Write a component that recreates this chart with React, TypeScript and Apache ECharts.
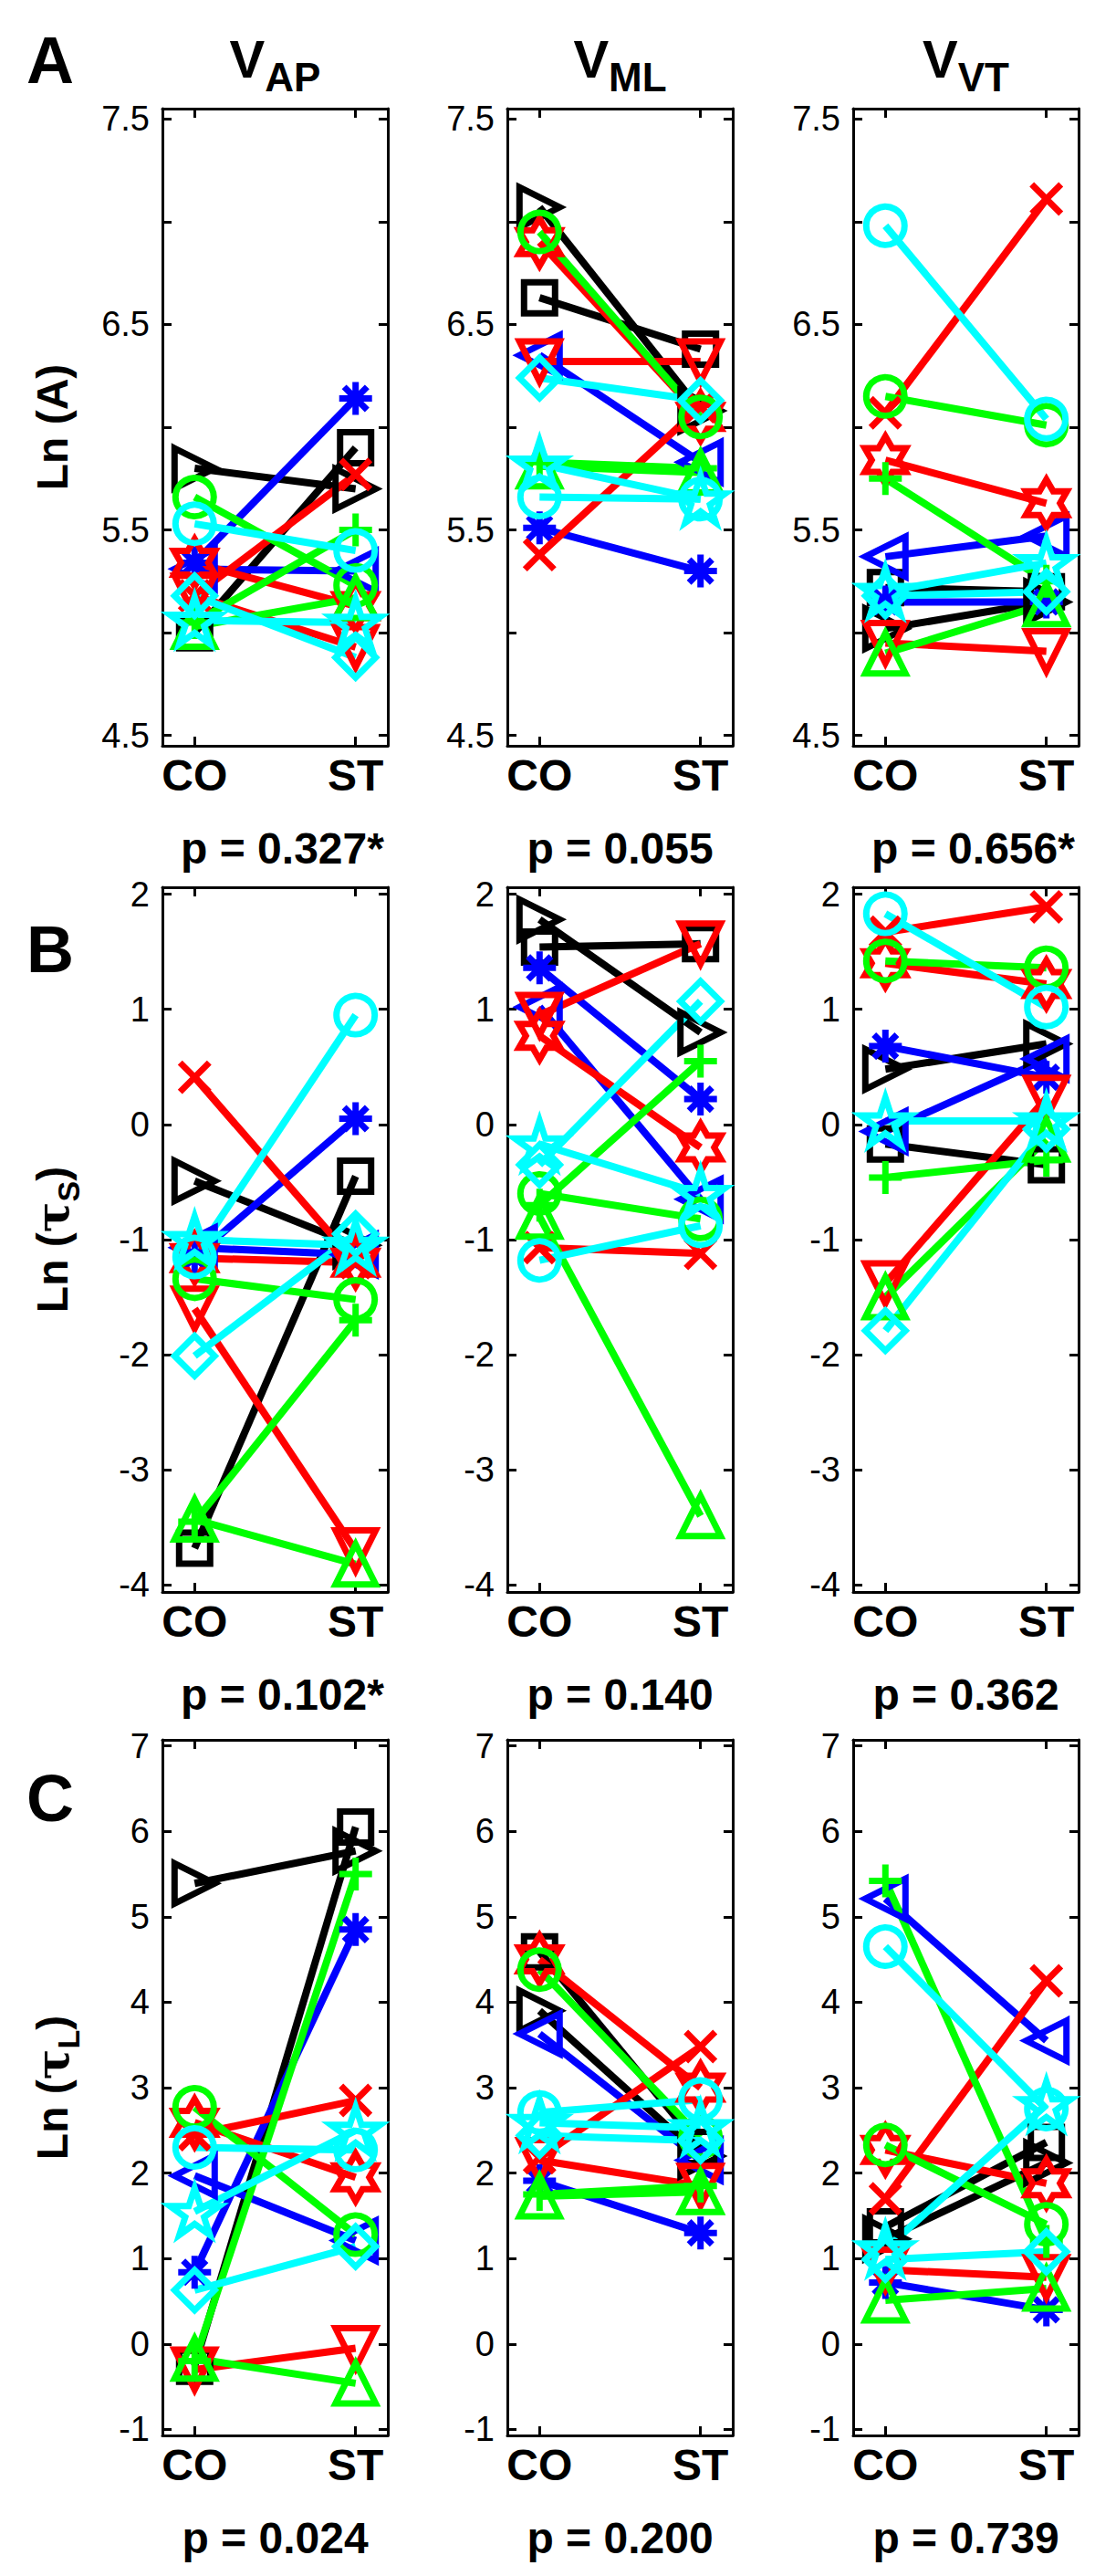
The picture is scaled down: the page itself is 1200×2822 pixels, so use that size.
import React, { useEffect, useRef } from 'react';
import * as echarts from 'echarts';

// ---------- DATA ----------
const categories = ['CO', 'ST'];
// 13 subjects: colour + MATLAB-like marker
const subjectColors = ['#000000', '#000000', '#0000FF', '#0000FF', '#FF0000', '#FF0000', '#FF0000', '#00FF00', '#00FF00', '#00FF00', '#00FFFF', '#00FFFF', '#00FFFF'];
const subjectMarkers = ['square', 'triRight', 'triLeft', 'asterisk', 'x', 'triDown', 'hexagram', 'circle', 'triUp', 'plus', 'circle', 'diamond', 'pentagram'];

// Row A : Ln (A)
const A_AP_CO = [5.00, 5.80, 5.31, 5.34, 5.18, 5.18, 5.34, 5.66, 5.03, 5.05, 5.53, 5.18, 5.06];
const A_AP_ST = [5.90, 5.70, 5.30, 6.14, 5.77, 4.93, 5.13, 5.23, 5.17, 5.50, 5.40, 4.88, 5.05];
const A_ML_CO = [6.63, 7.07, 6.35, 5.51, 5.38, 6.32, 6.90, 6.95, 5.81, 5.83, 5.66, 6.24, 5.82];
const A_ML_ST = [6.38, 6.08, 5.83, 5.30, 6.10, 6.32, 6.05, 6.05, 5.78, 5.80, 5.65, 6.13, 5.65];
const A_VT_CO = [5.22, 5.02, 5.37, 5.15, 6.07, 4.95, 5.84, 6.15, 4.90, 5.75, 6.98, 5.18, 5.20];
const A_VT_ST = [5.20, 5.15, 5.47, 5.15, 7.11, 4.91, 5.63, 6.01, 5.14, 5.25, 6.04, 5.20, 5.34];
// Row B : Ln (tau S)
const B_AP_CO = [-3.68, -0.49, -1.07, -1.15, 0.41, -1.60, -1.16, -1.34, -3.43, -3.45, -1.15, -2.01, -1.00];
const B_AP_ST = [-0.45, -1.05, -1.13, 0.05, -1.20, -3.70, -1.20, -1.52, -3.82, -1.70, 0.95, -0.95, -1.05];
const B_ML_CO = [1.54, 1.78, 1.02, 1.36, -1.07, 0.95, 0.77, -0.60, -0.80, -0.70, -1.18, -0.35, -0.17];
const B_ML_ST = [1.57, 0.80, -0.65, 0.22, -1.12, 1.57, -0.20, -0.82, -3.40, 0.55, -0.88, 1.07, -0.60];
const B_VT_CO = [-0.17, 0.48, -0.06, 0.68, 1.67, -1.38, 1.40, 1.42, -1.50, -0.46, 1.83, -1.79, 0.03];
const B_VT_ST = [-0.35, 0.70, 0.57, 0.41, 1.89, 0.23, 1.22, 1.36, -0.13, -0.31, 1.02, -0.04, 0.03];
// Row C : Ln (tau L)
const C_AP_CO = [-0.26, 5.39, 1.97, 0.84, 2.45, -0.30, 2.59, 2.77, -0.17, -0.20, 2.30, 0.63, 1.55];
const C_AP_ST = [6.05, 5.77, 1.21, 4.85, 2.85, -0.05, 1.95, 1.28, -0.46, 5.50, 2.27, 1.14, 2.50];
const C_ML_CO = [4.59, 3.90, 3.63, 1.91, 2.18, 2.15, 4.50, 4.38, 1.73, 1.75, 2.71, 2.44, 2.59];
const C_ML_ST = [2.30, 2.20, 2.15, 1.30, 3.48, 1.85, 3.00, 2.42, 1.78, 1.85, 2.86, 2.38, 2.53];
const C_VT_CO = [1.37, 1.23, 5.21, 0.72, 1.70, 0.87, 2.27, 2.33, 0.51, 5.42, 4.65, 0.99, 1.11];
const C_VT_ST = [2.36, 2.12, 3.55, 0.40, 4.25, 0.78, 1.88, 1.40, 0.65, 1.20, 2.75, 1.08, 2.80];

const colSubscripts = ['AP', 'ML', 'VT'];
const rowLetters = ['A', 'B', 'C'];
const pRowA = ['p = 0.327*', 'p = 0.055', 'p = 0.656*'];
const pRowB = ['p = 0.102*', 'p = 0.140', 'p = 0.362'];
const pRowC = ['p = 0.024', 'p = 0.200', 'p = 0.739'];
const yTicksA = [4.5, 5, 5.5, 6, 6.5, 7, 7.5];
const yLabelsA = [4.5, 5.5, 6.5, 7.5];
const yTicksB = [-4, -3, -2, -1, 0, 1, 2];
const yTicksC = [-1, 0, 1, 2, 3, 4, 5, 6, 7];

// ---------- STYLE / LAYOUT ----------
const FONT = '"Liberation Sans", Arial, Helvetica, sans-serif';
const colLeft = [178, 556, 935];
const boxW = 247;
const rowTop = [119, 972, 1906];
const rowH = [698, 772, 762];

function starPath(n: number, outer: number, inner: number) {
  let d = '';
  for (let i = 0; i < n * 2; i++) {
    const r = i % 2 === 0 ? outer : inner;
    const a = -Math.PI / 2 + (i * Math.PI) / n;
    d += (i === 0 ? 'M' : 'L') + (10 + r * Math.cos(a)).toFixed(3) + ',' + (10 + r * Math.sin(a)).toFixed(3);
  }
  return 'path://' + d + 'Z';
}

const symbolDefs: Record<string, { symbol: string; size: number }> = {
  square: { symbol: 'rect', size: 34 },
  circle: { symbol: 'circle', size: 42 },
  triRight: { symbol: 'path://M0,0L10,5L0,10Z', size: 44 },
  triLeft: { symbol: 'path://M10,0L0,5L10,10Z', size: 44 },
  triDown: { symbol: 'path://M0,0L10,0L5,10Z', size: 44 },
  triUp: { symbol: 'path://M5,0L10,10L0,10Z', size: 44 },
  diamond: { symbol: 'path://M5,0L10,5L5,10L0,5Z', size: 44 },
  x: { symbol: 'path://M0,0L10,10M10,0L0,10', size: 32 },
  plus: { symbol: 'path://M5,0L5,10M0,5L10,5', size: 36 },
  asterisk: { symbol: 'path://M5,0L5,10M0,5L10,5M1.5,1.5L8.5,8.5M8.5,1.5L1.5,8.5', size: 36 },
  hexagram: { symbol: starPath(6, 10, 5.77), size: 52 },
  pentagram: { symbol: starPath(5, 10, 3.82), size: 54 },
};

const panels = [
  { co: A_AP_CO, st: A_AP_ST, row: 0, col: 0 },
  { co: A_ML_CO, st: A_ML_ST, row: 0, col: 1 },
  { co: A_VT_CO, st: A_VT_ST, row: 0, col: 2 },
  { co: B_AP_CO, st: B_AP_ST, row: 1, col: 0 },
  { co: B_ML_CO, st: B_ML_ST, row: 1, col: 1 },
  { co: B_VT_CO, st: B_VT_ST, row: 1, col: 2 },
  { co: C_AP_CO, st: C_AP_ST, row: 2, col: 0 },
  { co: C_ML_CO, st: C_ML_ST, row: 2, col: 1 },
  { co: C_VT_CO, st: C_VT_ST, row: 2, col: 2 },
];

const rowY = [
  { min: 4.45, max: 7.55, ticks: yTicksA, labels: yLabelsA, fmt: (v: number) => v.toFixed(1) },
  { min: -4.06, max: 2.06, ticks: yTicksB, labels: yTicksB, fmt: (v: number) => String(v) },
  { min: -1.07, max: 7.07, ticks: yTicksC, labels: yTicksC, fmt: (v: number) => String(v) },
];

function buildOption() {
  const grid: any[] = [];
  const xAxis: any[] = [];
  const yAxis: any[] = [];
  const series: any[] = [];
  const graphic: any[] = [];
  const axisLine = { show: true, onZero: false, lineStyle: { color: '#000', width: 3 } };
  const tickStyle = { color: '#000', width: 3 };

  panels.forEach((p, pi) => {
    const left = colLeft[p.col];
    const top = rowTop[p.row];
    const h = rowH[p.row];
    const ry = rowY[p.row];
    grid.push({ left, top, width: boxW, height: h, containLabel: false });
    const xBase = {
      type: 'value', gridIndex: pi, min: 0.8, max: 2.2,
      axisLine, splitLine: { show: false },
      axisTick: { show: true, inside: true, length: 10, lineStyle: tickStyle, customValues: [1, 2] },
    };
    xAxis.push({
      ...xBase, position: 'bottom',
      axisLabel: {
        show: true, customValues: [1, 2], margin: 8,
        formatter: (v: number) => categories[Math.round(v) - 1],
        fontSize: 48, fontWeight: 'bold', fontFamily: FONT, color: '#000',
      },
    });
    xAxis.push({ ...xBase, position: 'top', axisLabel: { show: false } });
    const yBase = {
      type: 'value', gridIndex: pi, min: ry.min, max: ry.max,
      axisLine, splitLine: { show: false },
      axisTick: { show: true, inside: true, length: 10, lineStyle: tickStyle, customValues: ry.ticks },
    };
    yAxis.push({
      ...yBase, position: 'left',
      axisLabel: {
        show: true, customValues: ry.labels, margin: 14, formatter: ry.fmt,
        fontSize: 38, fontFamily: FONT, color: '#000',
      },
    });
    yAxis.push({ ...yBase, position: 'right', axisLabel: { show: false } });

    subjectColors.forEach((c, si) => {
      const sd = symbolDefs[subjectMarkers[si]];
      series.push({
        type: 'line',
        xAxisIndex: pi * 2,
        yAxisIndex: pi * 2,
        data: [[1, p.co[si]], [2, p.st[si]]],
        symbol: sd.symbol,
        symbolSize: sd.size,
        symbolKeepAspect: true,
        showAllSymbol: true,
        clip: false,
        silent: true,
        lineStyle: { color: c, width: 8 },
        itemStyle: { color: 'rgba(0,0,0,0)', borderColor: c, borderWidth: 7 },
        emphasis: { disabled: true },
      });
    });
  });

  const pRows = [pRowA, pRowB, pRowC];
  const yTitleRich = {
    a: { fontSize: 48, fontWeight: 'bold', fontFamily: FONT, lineHeight: 70, verticalAlign: 'middle', fill: '#000' },
    t: { fontSize: 50, fontWeight: 'bold', fontFamily: '"DejaVu Serif", serif', lineHeight: 70, verticalAlign: 'middle', fill: '#000' },
    b: { fontSize: 34, fontWeight: 'bold', fontFamily: FONT, lineHeight: 36, verticalAlign: 'bottom', fill: '#000' },
  };
  const yTitles = ['{a|Ln (A)}', '{a|Ln (}{t|τ}{b|S}{a|)}', '{a|Ln (}{t|τ}{b|L}{a|)}'];

  for (let r = 0; r < 3; r++) {
    const bottom = rowTop[r] + rowH[r];
    const letterY = [66, 1040, 1970][r];
    graphic.push({
      type: 'text', x: 55, y: letterY, silent: true,
      style: {
        text: rowLetters[r], fill: '#000', fontSize: 72, fontWeight: 'bold', fontFamily: FONT,
        align: 'center', verticalAlign: 'middle', textAlign: 'center', textVerticalAlign: 'middle',
      },
    });
    graphic.push({
      type: 'text', x: 57, y: rowTop[r] + rowH[r] / 2, rotation: Math.PI / 2, silent: true,
      style: {
        text: yTitles[r], rich: yTitleRich, fill: '#000',
        align: 'center', verticalAlign: 'middle', textAlign: 'center', textVerticalAlign: 'middle',
      },
    });
    for (let c = 0; c < 3; c++) {
      const txt = pRows[r][c];
      const cx = colLeft[c] + boxW / 2 + (txt.endsWith('*') ? 8 : 0);
      graphic.push({
        type: 'text', x: cx, y: bottom + 112, silent: true,
        style: {
          text: txt, fill: '#000', fontSize: 48, fontWeight: 'bold', fontFamily: FONT,
          align: 'center', verticalAlign: 'middle', textAlign: 'center', textVerticalAlign: 'middle',
        },
      });
    }
  }
  for (let c = 0; c < 3; c++) {
    graphic.push({
      type: 'text', x: colLeft[c] + boxW / 2, y: 64, silent: true,
      style: {
        text: '{v|V}{s|' + colSubscripts[c] + '}',
        rich: {
          v: { fontSize: 58, fontWeight: 'bold', fontFamily: FONT, lineHeight: 84, verticalAlign: 'middle', fill: '#000' },
          s: { fontSize: 44, fontWeight: 'bold', fontFamily: FONT, lineHeight: 44, verticalAlign: 'bottom', fill: '#000' },
        },
        align: 'center', verticalAlign: 'middle', textAlign: 'center', textVerticalAlign: 'middle',
      },
    });
  }

  return {
    animation: false,
    backgroundColor: '#ffffff',
    grid, xAxis, yAxis, series, graphic,
  };
}

export default function App() {
  const ref = useRef<HTMLDivElement>(null);
  useEffect(() => {
    document.body.style.margin = '0';
    if (!ref.current) return;
    const chart = echarts.init(ref.current, undefined, { renderer: 'svg' });
    chart.setOption(buildOption() as any);
    return () => chart.dispose();
  }, []);
  return <div ref={ref} style={{ width: 1200, height: 2822, background: '#fff' }} />;
}
